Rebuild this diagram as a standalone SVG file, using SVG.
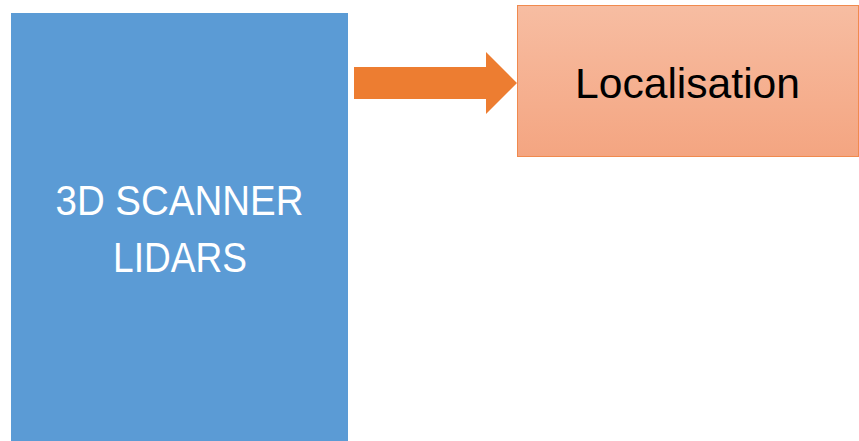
<svg xmlns="http://www.w3.org/2000/svg" width="859" height="441" viewBox="0 0 859 441">
  <style>
    .label { font-family: "Liberation Sans", Arial, sans-serif; font-size: 42px; text-anchor: middle; }
  </style>
  <defs>
    <linearGradient id="peach" x1="0" y1="0" x2="0" y2="1">
      <stop offset="0" stop-color="#F7BDA2"/>
      <stop offset="1" stop-color="#F4A581"/>
    </linearGradient>
  </defs>
  <rect width="859" height="441" fill="#FFFFFF"/>

  <g id="node-scanner">
    <rect x="11" y="13" width="337" height="430" fill="#5B9BD5"/>
    <text class="label" x="179.5" y="215" fill="#FFFFFF" textLength="248" lengthAdjust="spacingAndGlyphs">3D SCANNER</text>
    <text class="label" x="180" y="272" fill="#FFFFFF" textLength="134" lengthAdjust="spacingAndGlyphs">LIDARS</text>
  </g>

  <g id="connectors">
    <polygon points="354,67 486,67 486,52 517,83 486,114 486,99 354,99" fill="#ED7D31"/>
  </g>

  <g id="node-localisation">
    <rect x="517.5" y="5.5" width="341" height="151" fill="url(#peach)" stroke="#F08A4E" stroke-width="1"/>
    <text class="label" x="687.5" y="98" fill="#000000" textLength="225" lengthAdjust="spacingAndGlyphs">Localisation</text>
  </g>
</svg>
